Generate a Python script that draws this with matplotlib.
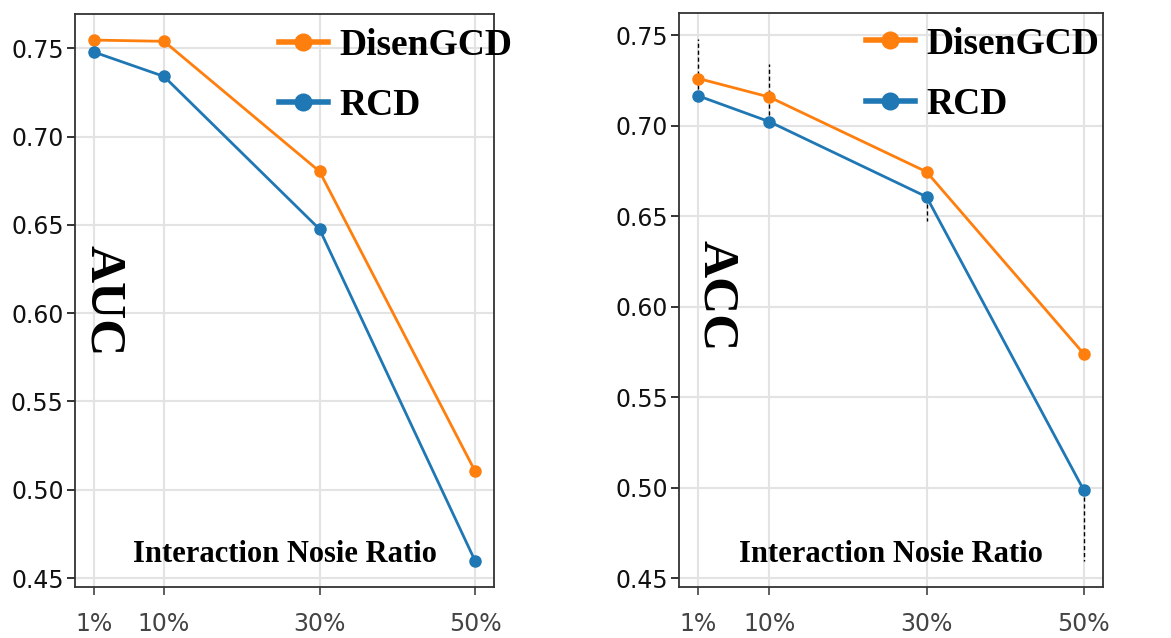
import matplotlib
matplotlib.use("Agg")
import matplotlib.pyplot as plt

# 噪声比例 (x 轴)
ratios = [1, 10, 30, 50]
ratio_labels = ["1%", "10%", "30%", "50%"]

# AUC
auc_disengcd = [0.7547, 0.7540, 0.6803, 0.5105]
auc_rcd = [0.7479, 0.7341, 0.6476, 0.4597]

# ACC
acc_disengcd = [0.7260, 0.7158, 0.6745, 0.5740]
acc_rcd = [0.7164, 0.7022, 0.6607, 0.4987]

ORANGE = "#ff7f0e"
BLUE = "#1f77b4"
SERIF = "Liberation Serif"
plt.rcParams["font.family"] = ["DejaVu Sans"]


def draw_panel(ax, y_dis, y_rcd, metric, leg_x, lab_x, lab_y, err_top=None):
    if err_top is not None:
        ax.vlines(ratios, y_rcd, err_top, colors="black", linestyles=(0, (3, 2)), linewidth=1.0)
    ax.plot(ratios, y_dis, color=ORANGE, marker="o", markersize=8, linewidth=2, label="DisenGCD")
    ax.plot(ratios, y_rcd, color=BLUE, marker="o", markersize=8, linewidth=2, label="RCD")

    ax.grid(True, color="#e3e3e3", linewidth=1.5)
    ax.set_axisbelow(True)
    for sp in ax.spines.values():
        sp.set_color("#333333")
        sp.set_linewidth(1.3)

    ax.set_xticks(ratios)
    ax.set_xticklabels(ratio_labels)
    ax.set_yticks([0.45, 0.50, 0.55, 0.60, 0.65, 0.70, 0.75])
    ax.tick_params(axis="y", labelsize=17, length=6, width=1.2, pad=2, colors="#111111")
    ax.tick_params(axis="x", labelsize=17, length=6, width=1.2, pad=12, colors="#444444")

    leg = ax.legend(loc="upper left", bbox_to_anchor=(leg_x, 0.976), frameon=False,
                    prop={"family": SERIF, "weight": "bold", "size": 27},
                    handlelength=1.3, handletextpad=0.3, labelspacing=0.68,
                    borderpad=0, borderaxespad=0)
    for h in leg.legend_handles:
        h.set_linewidth(4)
        h.set_markersize(12)

    ax.text(lab_x, lab_y, metric, transform=ax.transAxes, rotation=270,
            ha="center", va="center", fontfamily=SERIF, fontweight="bold", fontsize=37)
    ax.text(0.5, 0.056, "Interaction Nosie Ratio", transform=ax.transAxes,
            ha="center", va="center", fontfamily=SERIF, fontweight="bold", fontsize=22)


fig = plt.figure(figsize=(11.71, 6.38), dpi=100)
ax1 = fig.add_axes([0.064, 0.080, 0.358, 0.898])
ax2 = fig.add_axes([0.580, 0.080, 0.362, 0.900])

draw_panel(ax1, auc_disengcd, auc_rcd, "AUC", 0.487, 0.068, 0.50)
# 右图中的虚线 (RCD ACC -> RCD AUC)
draw_panel(ax2, acc_disengcd, acc_rcd, "ACC", 0.441, 0.088, 0.507, err_top=auc_rcd)

fig.savefig("out.png", dpi=100)
